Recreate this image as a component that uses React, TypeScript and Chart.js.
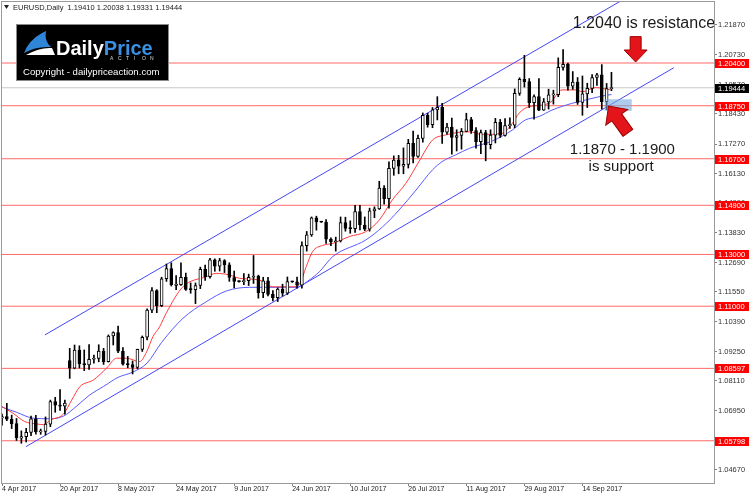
import React, { useEffect, useRef } from 'react';
import { Chart, registerables } from 'chart.js';
Chart.register(...registerables);

// ---- Data (EURUSD daily) ----
const OPENS = [1.0668,1.0673,1.0663,1.0646,1.0590,1.0596,1.0612,1.0665,1.0614,1.0616,1.0644,1.0731,1.0717,1.0714,1.0890,1.0860,1.0930,1.0878,1.0873,1.0895,1.0898,1.0927,1.0886,1.0985,1.0998,1.0926,1.0876,1.0874,1.0863,1.0933,1.0980,1.1085,1.1160,1.1102,1.1206,1.1245,1.1180,1.1183,1.1212,1.1165,1.1164,1.1180,1.1243,1.1214,1.1279,1.1255,1.1276,1.1260,1.1211,1.1196,1.1195,1.1199,1.1212,1.1216,1.1152,1.1198,1.1146,1.1133,1.1166,1.1150,1.1195,1.1194,1.1181,1.1334,1.1376,1.1442,1.1426,1.1425,1.1359,1.1349,1.1352,1.1423,1.1401,1.1400,1.1466,1.1414,1.1398,1.1469,1.1476,1.1557,1.1516,1.1633,1.1665,1.1641,1.1648,1.1730,1.1679,1.1749,1.1838,1.1802,1.1859,1.1869,1.1773,1.1792,1.1752,1.1760,1.1776,1.1821,1.1779,1.1736,1.1771,1.1724,1.1761,1.1811,1.1760,1.1798,1.1800,1.1923,1.1977,1.1968,1.1887,1.1910,1.1858,1.1890,1.1917,1.1918,1.2023,1.2035,1.1951,1.1966,1.1888,1.1921,1.1942,1.1984,1.1994,1.1891,1.1941];
const HIGHS = [1.0683,1.0725,1.0679,1.0666,1.0618,1.0628,1.0675,1.0678,1.0625,1.0672,1.0737,1.0748,1.0778,1.0737,1.0937,1.0950,1.0947,1.0931,1.0952,1.0911,1.0951,1.0937,1.0989,1.1001,1.1023,1.0940,1.0906,1.0888,1.0934,1.0985,1.1090,1.1172,1.1164,1.1212,1.1263,1.1268,1.1218,1.1268,1.1228,1.1190,1.1190,1.1251,1.1259,1.1285,1.1283,1.1285,1.1280,1.1268,1.1236,1.1198,1.1226,1.1224,1.1296,1.1220,1.1212,1.1212,1.1160,1.1171,1.1185,1.1213,1.1197,1.1213,1.1349,1.1389,1.1445,1.1448,1.1428,1.1435,1.1364,1.1367,1.1445,1.1444,1.1430,1.1490,1.1490,1.1445,1.1479,1.1484,1.1583,1.1566,1.1658,1.1681,1.1683,1.1712,1.1745,1.1777,1.1761,1.1847,1.1846,1.1868,1.1910,1.1884,1.1807,1.1827,1.1782,1.1787,1.1846,1.1830,1.1790,1.1781,1.1780,1.1782,1.1826,1.1822,1.1825,1.1828,1.1940,1.1983,1.2070,1.1980,1.1917,1.1980,1.1903,1.1939,1.1935,1.2060,1.2092,1.2040,1.2007,1.1984,1.1990,1.1962,1.1995,1.2000,1.2034,1.1961,1.2004];
const LOWS = [1.0640,1.0658,1.0627,1.0581,1.0570,1.0575,1.0600,1.0605,1.0605,1.0602,1.0634,1.0690,1.0697,1.0683,1.0821,1.0858,1.0861,1.0851,1.0856,1.0880,1.0885,1.0875,1.0884,1.0950,1.0920,1.0872,1.0862,1.0838,1.0858,1.0925,1.0970,1.1075,1.1075,1.1098,1.1196,1.1178,1.1164,1.1180,1.1161,1.1150,1.1110,1.1168,1.1200,1.1208,1.1235,1.1236,1.1230,1.1196,1.1171,1.1193,1.1183,1.1180,1.1188,1.1131,1.1133,1.1140,1.1120,1.1118,1.1139,1.1145,1.1192,1.1170,1.1170,1.1313,1.1370,1.1394,1.1424,1.1343,1.1334,1.1313,1.1348,1.1390,1.1382,1.1385,1.1395,1.1392,1.1390,1.1442,1.1474,1.1494,1.1479,1.1606,1.1612,1.1612,1.1634,1.1654,1.1675,1.1734,1.1792,1.1790,1.1820,1.1729,1.1765,1.1688,1.1700,1.1707,1.1774,1.1768,1.1711,1.1690,1.1662,1.1708,1.1731,1.1752,1.1757,1.1787,1.1790,1.1915,1.1947,1.1868,1.1823,1.1856,1.1857,1.1862,1.1881,1.1910,1.2012,1.1935,1.1938,1.1880,1.1838,1.1868,1.1925,1.1953,1.1862,1.1860,1.1933];
const CLOSES = [1.0673,1.0663,1.0646,1.0592,1.0596,1.0612,1.0665,1.0614,1.0616,1.0644,1.0731,1.0717,1.0714,1.0726,1.0860,1.0930,1.0878,1.0873,1.0895,1.0898,1.0927,1.0886,1.0985,1.0998,1.0926,1.0876,1.0874,1.0863,1.0933,1.0980,1.1085,1.1160,1.1102,1.1206,1.1245,1.1183,1.1186,1.1212,1.1165,1.1164,1.1180,1.1243,1.1214,1.1279,1.1255,1.1276,1.1260,1.1211,1.1196,1.1195,1.1199,1.1212,1.1216,1.1152,1.1198,1.1146,1.1133,1.1166,1.1150,1.1195,1.1194,1.1181,1.1334,1.1376,1.1442,1.1426,1.1425,1.1359,1.1349,1.1352,1.1423,1.1401,1.1400,1.1466,1.1414,1.1398,1.1469,1.1476,1.1557,1.1516,1.1633,1.1665,1.1641,1.1648,1.1730,1.1679,1.1749,1.1838,1.1802,1.1859,1.1869,1.1773,1.1792,1.1752,1.1760,1.1776,1.1821,1.1779,1.1736,1.1771,1.1724,1.1761,1.1811,1.1760,1.1798,1.1800,1.1923,1.1977,1.1968,1.1887,1.1910,1.1858,1.1890,1.1917,1.1918,1.2023,1.2035,1.1951,1.1966,1.1888,1.1921,1.1942,1.1984,1.1994,1.1891,1.1941,1.1944];

// moving averages read at sample bars (bar index, value)
const RED_MA_IDX = [0,2.3,4.7,7.2,8.6,10,12.7,14.4,16.1,18.9,21.6,23.7,25.7,28.5,29.9,31.2,32.6,34,37.4,42.2,44.3,47,49.1,53.2,56,60.1,61.5,62.9,64.2,66.3,68.4,71.8,75.2,78,80.7,83.5,86.2,89,91.7,94.5,96.6,99.3,103.4,105.5,106.9,108.9,113.1,115.8,118.6,120,122.7,125.8];
const RED_MA_VAL = [1.0712,1.0686,1.0654,1.0645,1.0642,1.0660,1.0683,1.0737,1.0789,1.0815,1.0860,1.0899,1.0899,1.0886,1.0924,1.0982,1.1021,1.1075,1.1175,1.1214,1.1227,1.1221,1.1208,1.1201,1.1175,1.1175,1.1185,1.1253,1.1311,1.1335,1.1343,1.1369,1.1388,1.1433,1.1511,1.1575,1.1659,1.1742,1.1762,1.1772,1.1774,1.1764,1.1768,1.1807,1.1846,1.1871,1.1884,1.1936,1.1936,1.1929,1.1945,1.1936];
const BLUE_MA_IDX = [0,3,6.5,10,12.7,15.5,18,21,24,27,30,33,37.4,42.2,46.4,51.2,56.7,60.8,63.5,65.6,68.4,75.2,78.7,82.1,85.6,89,91,93.8,96.6,101.4,105.5,108.2,111,113.7,117.8,120.6,125.1,126];
const BLUE_MA_VAL = [1.0710,1.0690,1.0667,1.0665,1.0675,1.0715,1.0755,1.0790,1.0825,1.0845,1.0880,1.0960,1.1053,1.1117,1.1159,1.1173,1.1173,1.1173,1.1201,1.1233,1.1292,1.1356,1.1407,1.1472,1.1549,1.1627,1.1659,1.1685,1.1710,1.1739,1.1781,1.1820,1.1833,1.1858,1.1884,1.1897,1.1916,1.1918];

// channel lines (bar index, price)
const UPPER_CH_IDX = [8.87, 128.3];
const UPPER_CH_VAL = [1.0989, 1.2284];
const LOWER_CH_IDX = [4.95, 138.9];
const LOWER_CH_VAL = [1.0557, 1.2022];

const LEVELS = [1.204, 1.1875, 1.167, 1.149, 1.13, 1.11, 1.08597, 1.05798];
const CURRENT_PRICE = 1.19444;
const SUPPORT_ZONE = [1.1900, 1.1855];
const SUPPORT_ZONE_IDX = [124.6, 130.2];

const Y_TICKS = [1.2187,1.2073,1.1957,1.1843,1.1727,1.1613,1.1499,1.1383,1.1269,1.1155,1.1039,1.0925,1.0811,1.0695,1.0581,1.0467];
const X_TICK_IDX = [0,12,24,36,48,60,72,84,96,108,120];
const X_TICK_LABELS = ['4 Apr 2017','20 Apr 2017','8 May 2017','24 May 2017','9 Jun 2017','24 Jun 2017','10 Jul 2017','26 Jul 2017','11 Aug 2017','29 Aug 2017','14 Sep 2017'];

const HEADER = 'EURUSD,Daily  1.19410 1.20038 1.19331 1.19444';

const X_MIN = 0, X_MAX = 147.2;
const Y_MIN = 1.04166, Y_MAX = 1.22759;

const FONT = '"Liberation Sans", Arial, sans-serif';

function drawArrow(ctx: any, x1: number, y1: number, x2: number, y2: number, shaftW: number, headW: number, headL: number) {
  const dx = x2 - x1, dy = y2 - y1;
  const len = Math.sqrt(dx * dx + dy * dy);
  const ang = Math.atan2(dy, dx);
  ctx.save();
  ctx.translate(x1, y1);
  ctx.rotate(ang);
  ctx.beginPath();
  ctx.moveTo(0, -shaftW / 2);
  ctx.lineTo(len - headL, -shaftW / 2);
  ctx.lineTo(len - headL, -headW / 2);
  ctx.lineTo(len, 0);
  ctx.lineTo(len - headL, headW / 2);
  ctx.lineTo(len - headL, shaftW / 2);
  ctx.lineTo(0, shaftW / 2);
  ctx.closePath();
  ctx.fillStyle = '#e4141b';
  ctx.fill();
  ctx.strokeStyle = '#9c0000';
  ctx.lineWidth = 1;
  ctx.stroke();
  ctx.restore();
}

const decoPlugin = {
  id: 'deco',
  afterDatasetsDraw(chart: any) {
    const { ctx, scales } = chart;
    const x = scales.x, y = scales.y;
    ctx.save();
    // support zone box
    const bx1 = x.getPixelForValue(SUPPORT_ZONE_IDX[0]);
    const bx2 = x.getPixelForValue(SUPPORT_ZONE_IDX[1]);
    const by1 = y.getPixelForValue(SUPPORT_ZONE[0]);
    const by2 = y.getPixelForValue(SUPPORT_ZONE[1]);
    ctx.fillStyle = 'rgba(120,170,225,0.6)';
    ctx.fillRect(bx1, by1, bx2 - bx1, by2 - by1);
    // arrows
    drawArrow(ctx, x.getPixelForValue(131), y.getPixelForValue(1.2142), x.getPixelForValue(131), y.getPixelForValue(1.2044), 11, 23, 12);
    drawArrow(ctx, x.getPixelForValue(129.4), y.getPixelForValue(1.1770), x.getPixelForValue(125.4), y.getPixelForValue(1.1874), 12, 27, 14);
    // annotation texts
    ctx.fillStyle = '#1a1a1a';
    ctx.textBaseline = 'middle';
    ctx.textAlign = 'left';
    ctx.font = '16px ' + FONT;
    ctx.fillText('1.2040 is resistance', x.getPixelForValue(118.0), y.getPixelForValue(1.2191));
    ctx.font = '15px ' + FONT;
    ctx.fillText('1.1870 - 1.1900', x.getPixelForValue(117.4), y.getPixelForValue(1.1704));
    ctx.textAlign = 'center';
    ctx.fillText('is support', x.getPixelForValue(128.0), y.getPixelForValue(1.1638));
    ctx.restore();
  },
  afterDraw(chart: any) {
    const { ctx, chartArea: a, scales } = chart;
    const y = scales.y;
    ctx.save();
    // frame
    ctx.strokeStyle = '#9a9a9a';
    ctx.lineWidth = 1;
    ctx.strokeRect(Math.round(a.left) - 0.5, Math.round(a.top) - 0.5, Math.round(a.right - a.left) + 1, Math.round(a.bottom - a.top) + 1);
    // header
    ctx.fillStyle = '#202020';
    ctx.beginPath();
    ctx.moveTo(4, 5); ctx.lineTo(9, 5); ctx.lineTo(6.5, 9); ctx.closePath(); ctx.fill();
    ctx.font = '7.5px ' + FONT;
    ctx.textBaseline = 'alphabetic';
    ctx.textAlign = 'left';
    ctx.fillText(HEADER, 13, 10);
    // logo
    ctx.fillStyle = '#000';
    ctx.fillRect(17, 25, 151, 55);
    ctx.strokeStyle = '#8a8a8a';
    ctx.strokeRect(16.5, 24.5, 152, 56);
    ctx.fillStyle = '#2f86d8';
    ctx.beginPath();
    ctx.moveTo(24, 53); ctx.quadraticCurveTo(29, 40, 42, 33); ctx.lineTo(46, 31);
    ctx.quadraticCurveTo(44, 41, 51, 47); ctx.quadraticCurveTo(36, 46, 24, 53); ctx.closePath(); ctx.fill();
    ctx.fillStyle = '#ffffff';
    ctx.beginPath();
    ctx.moveTo(26, 55); ctx.quadraticCurveTo(40, 47, 52, 48); ctx.lineTo(55, 55); ctx.closePath(); ctx.fill();
    ctx.font = 'bold 20px ' + FONT;
    ctx.fillStyle = '#ffffff';
    ctx.fillText('Daily', 56, 55);
    const w = ctx.measureText('Daily').width;
    ctx.fillStyle = '#3a90e2';
    ctx.fillText('Price', 56 + w, 55);
    ctx.font = '5px ' + FONT;
    ctx.fillStyle = '#d8d8d8';
    'ACTION'.split('').forEach((c, i) => ctx.fillText(c, 110 + i * 8, 60));
    ctx.font = '9.6px ' + FONT;
    ctx.fillStyle = '#ffffff';
    ctx.fillText('Copyright - dailypriceaction.com', 23, 75);
    // price boxes on axis
    ctx.font = '7.5px ' + FONT;
    ctx.textBaseline = 'middle';
    const box = (v: number, bg: string) => {
      const py = Math.round(y.getPixelForValue(v));
      ctx.fillStyle = bg;
      ctx.fillRect(715, py - 4, 34, 9);
      ctx.fillStyle = '#ffffff';
      ctx.fillText(v.toFixed(5), 718, py + 0.5);
    };
    LEVELS.forEach((v) => box(v, '#ff0000'));
    box(CURRENT_PRICE, '#000000');
    ctx.restore();
  },
};

export default function App() {
  const ref = useRef<HTMLCanvasElement>(null);
  useEffect(() => {
    const n = OPENS.length;
    const idx = Array.from({ length: n }, (_, i) => i);
    const bodies = idx.map((i) => ({ x: i, y: [OPENS[i], CLOSES[i]] }));
    const wicks = idx.map((i) => ({ x: i, y: [LOWS[i], HIGHS[i]] }));
    const bodyColors = idx.map((i) => (CLOSES[i] > OPENS[i] ? '#ffffff' : '#000000'));
    const pairs = (xs: number[], ys: number[]) => xs.map((v, i) => ({ x: v, y: ys[i] }));

    const levelSets = LEVELS.map((v) => ({
      type: 'line', data: [{ x: X_MIN, y: v }, { x: X_MAX, y: v }],
      borderColor: 'rgb(255,105,105)', borderWidth: 1, pointRadius: 0, order: 10,
    }));

    const chart = new Chart(ref.current as HTMLCanvasElement, {
      type: 'bar',
      data: {
        datasets: [
          ...levelSets,
          { type: 'line', data: [{ x: X_MIN, y: CURRENT_PRICE }, { x: X_MAX, y: CURRENT_PRICE }], borderColor: '#c8c8c8', borderWidth: 1, pointRadius: 0, order: 10 },
          { type: 'line', data: pairs(UPPER_CH_IDX, UPPER_CH_VAL), borderColor: 'rgb(70,70,245)', borderWidth: 1, pointRadius: 0, order: 9 },
          { type: 'line', data: pairs(LOWER_CH_IDX, LOWER_CH_VAL), borderColor: 'rgb(70,70,245)', borderWidth: 1, pointRadius: 0, order: 9 },
          { type: 'line', data: pairs(BLUE_MA_IDX, BLUE_MA_VAL), borderColor: 'rgb(90,90,255)', borderWidth: 1, pointRadius: 0, cubicInterpolationMode: 'monotone', order: 8 },
          { type: 'line', data: pairs(RED_MA_IDX, RED_MA_VAL), borderColor: 'rgb(255,60,60)', borderWidth: 1, pointRadius: 0, cubicInterpolationMode: 'monotone', order: 7 },
          { type: 'bar', data: wicks, backgroundColor: '#000000', borderWidth: 0, barThickness: 1, grouped: false, order: 5 },
          { type: 'bar', data: bodies, backgroundColor: bodyColors, borderColor: '#000000', borderWidth: 1, borderSkipped: false, barThickness: 3, minBarLength: 1, grouped: false, order: 4 },
        ] as any,
      },
      options: {
        responsive: false,
        animation: false,
        devicePixelRatio: 1,
        events: [],
        layout: { padding: { left: 2, top: 2, right: 0, bottom: 0 } },
        plugins: { legend: { display: false }, tooltip: { enabled: false } },
        scales: {
          x: {
            type: 'linear', min: X_MIN, max: X_MAX, offset: false,
            grid: { display: true, drawOnChartArea: false, drawTicks: true, tickLength: 3, color: '#808080', offset: false },
            border: { display: false },
            ticks: {
              autoSkip: false, maxRotation: 0, minRotation: 0, align: 'start', padding: -1,
              font: { family: FONT, size: 7 }, color: '#222222',
              callback: (v: any) => { const k = X_TICK_IDX.indexOf(Number(v)); return k >= 0 ? X_TICK_LABELS[k] : ''; },
            },
            afterBuildTicks: (s: any) => { s.ticks = X_TICK_IDX.map((v) => ({ value: v })); },
            afterFit: (s: any) => { s.height = 13; s.paddingLeft = 0; s.paddingRight = 0; },
          },
          y: {
            type: 'linear', position: 'right', min: Y_MIN, max: Y_MAX,
            grid: { display: true, drawOnChartArea: false, drawTicks: true, tickLength: 3, color: '#808080' },
            border: { display: false },
            ticks: { padding: 1, font: { family: FONT, size: 7.5 }, color: '#333333', callback: (v: any) => Number(v).toFixed(5) },
            afterBuildTicks: (s: any) => { s.ticks = Y_TICKS.map((v) => ({ value: v })); },
            afterFit: (s: any) => { s.width = 36; s.paddingTop = 0; s.paddingBottom = 0; },
          },
        },
      } as any,
      plugins: [decoPlugin as any],
    });
    return () => chart.destroy();
  }, []);
  return (
    <div style={{ position: 'fixed', left: 0, top: 0, width: 750, height: 496, background: '#ffffff' }}>
      <canvas ref={ref} width={750} height={496} style={{ display: 'block', width: 750, height: 496 }} />
    </div>
  );
}
